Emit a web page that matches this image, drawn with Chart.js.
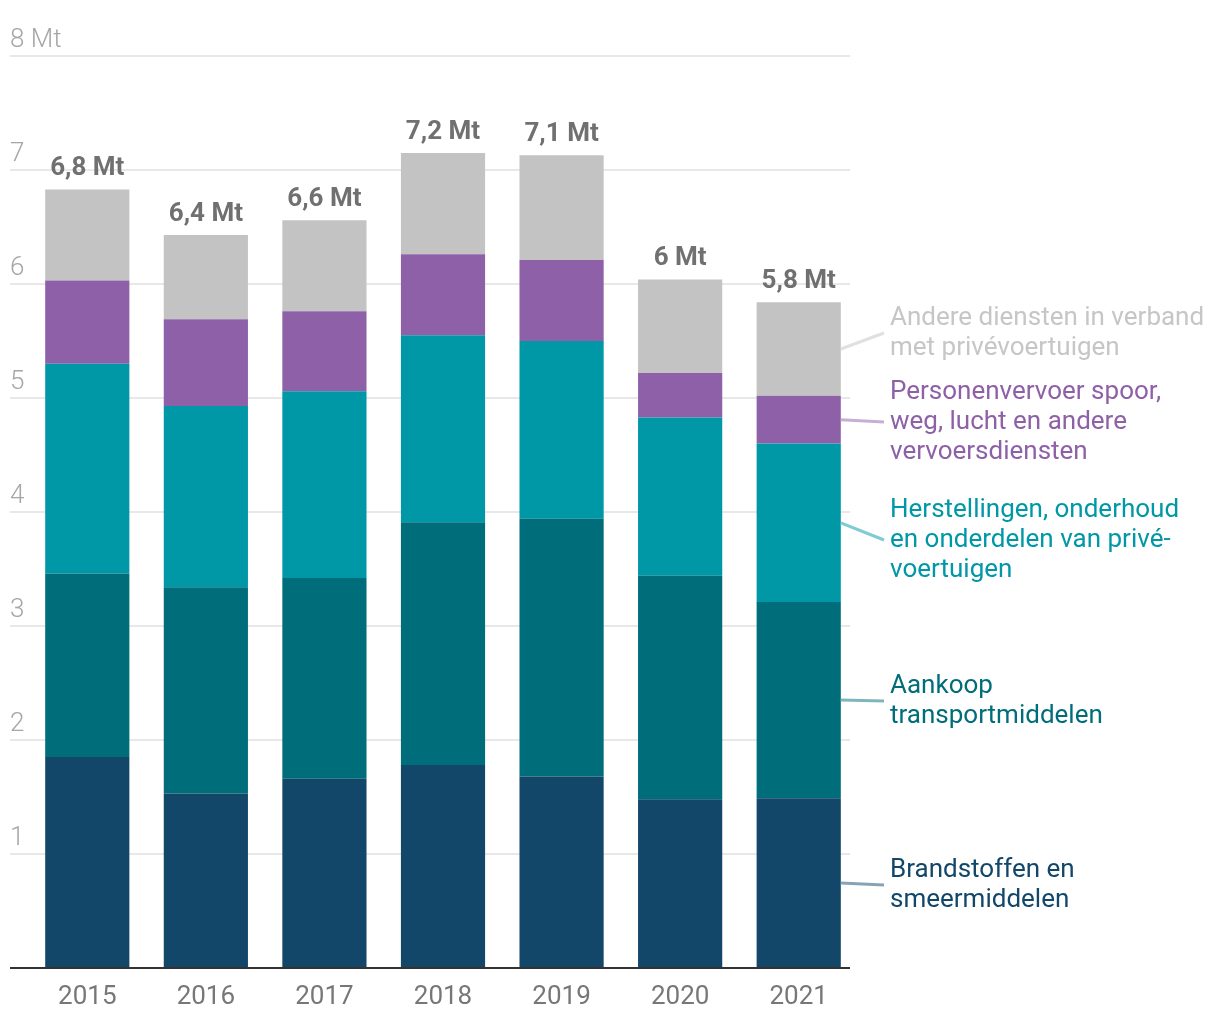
<!DOCTYPE html>
<html>
<head>
<meta charset="utf-8">
<script src="https://cdn.jsdelivr.net/npm/chart.js@4"></script>
<style>
  body { margin: 0; background: #fff; }
  #wrap { width: 1220px; height: 1020px; position: relative; }
</style>
</head>
<body>
<div id="wrap"><canvas id="myChart"></canvas></div>
<script>
// jaren
const years = ["2015", "2016", "2017", "2018", "2019", "2020", "2021"];

// reeksen (Mt), van onder naar boven
const brandstoffen = [1.85, 1.53, 1.66, 1.78, 1.68, 1.48, 1.49];
const aankoop = [1.61, 1.81, 1.76, 2.13, 2.26, 1.96, 1.72];
const herstellingen = [1.84, 1.59, 1.64, 1.64, 1.56, 1.39, 1.39];
const personenvervoer = [0.73, 0.76, 0.70, 0.71, 0.71, 0.39, 0.42];
const andereDiensten = [0.80, 0.74, 0.80, 0.89, 0.92, 0.82, 0.82];

// totalen boven de balken
const totalLabels = ["6,8 Mt", "6,4 Mt", "6,6 Mt", "7,2 Mt", "7,1 Mt", "6 Mt", "5,8 Mt"];

// y-as labels
const yTicks = [0, 1, 2, 3, 4, 5, 6, 7, 8];
const yTickLabels = ["", "1", "2", "3", "4", "5", "6", "7", "8 Mt"];

// legenda teksten
const seriesNames = [
  ["Brandstoffen en", "smeermiddelen"],
  ["Aankoop", "transportmiddelen"],
  ["Herstellingen, onderhoud", "en onderdelen van privé-", "voertuigen"],
  ["Personenvervoer spoor,", "weg, lucht en andere", "vervoersdiensten"],
  ["Andere diensten in verband", "met privévoertuigen"],
];
const colors = ["#12476a", "#006d7a", "#0097a7", "#8e60a8", "#c3c3c3"];
const textColors = ["#12476a", "#006d7a", "#0097a7", "#8e60a8", "#c6c6c6"];
const lineColors = ["#88a3b5", "#7fb6bd", "#7fcad3", "#c6afd4", "#e0e0e0"];
const legendTop = [870, 686, 510, 392, 318]; // y van eerste regel

const FONT = "Roboto, 'Noto Sans', sans-serif";

// rasterlijnen en y-labels
const gridPlugin = {
  id: "gridPlugin",
  beforeDatasetsDraw(chart) {
    const ctx = chart.ctx;
    const y = chart.scales.y;
    ctx.save();
    ctx.strokeStyle = "#e8e8e8";
    ctx.lineWidth = 2;
    ctx.font = "300 26px " + FONT;
    ctx.fillStyle = "#a6a6a6";
    ctx.textAlign = "left";
    ctx.textBaseline = "alphabetic";
    yTicks.forEach((v, i) => {
      const py = y.getPixelForValue(v);
      if (v > 0) {
        ctx.beginPath();
        ctx.moveTo(10, py);
        ctx.lineTo(850, py);
        ctx.stroke();
      }
      ctx.fillText(yTickLabels[i], 10, py - 9);
    });
    ctx.restore();
  },
  afterDatasetsDraw(chart) {
    const ctx = chart.ctx;
    const y = chart.scales.y;
    ctx.save();
    // basislijn
    ctx.strokeStyle = "#333";
    ctx.lineWidth = 2;
    ctx.beginPath();
    ctx.moveTo(10, y.getPixelForValue(0));
    ctx.lineTo(850, y.getPixelForValue(0));
    ctx.stroke();

    // totalen
    const top = chart.getDatasetMeta(chart.data.datasets.length - 1);
    ctx.font = "bold 26px " + FONT;
    ctx.fillStyle = "#707070";
    ctx.textAlign = "center";
    ctx.textBaseline = "alphabetic";
    top.data.forEach((bar, i) => {
      ctx.fillText(totalLabels[i], bar.x, bar.y - 14);
    });

    // legenda rechts met verbindingslijnen
    const last = years.length - 1;
    ctx.font = "26px " + FONT;
    ctx.textAlign = "left";
    ctx.textBaseline = "middle";
    seriesNames.forEach((lines, d) => {
      const bar = chart.getDatasetMeta(d).data[last];
      const mid = (bar.y + bar.base) / 2;
      const right = bar.x + bar.width / 2;
      const t0 = legendTop[d];
      const center = t0 + (lines.length - 1) * 15;
      ctx.strokeStyle = lineColors[d];
      ctx.lineWidth = 3;
      ctx.beginPath();
      ctx.moveTo(right, mid);
      ctx.lineTo(884, center);
      ctx.stroke();
      ctx.fillStyle = textColors[d];
      lines.forEach((txt, k) => ctx.fillText(txt, 890, t0 + k * 30));
    });
    ctx.restore();
  },
};

const seriesData = [brandstoffen, aankoop, herstellingen, personenvervoer, andereDiensten];

const context = document.getElementById("myChart").getContext("2d");
const myChart = new Chart(context, {
  type: "bar",
  data: {
    labels: years,
    datasets: seriesData.map((d, i) => ({
      label: seriesNames[i].join(" "),
      data: d,
      backgroundColor: colors[i],
      borderWidth: 0,
      barPercentage: 0.71,
      categoryPercentage: 1,
    })),
  },
  options: {
    responsive: true,
    maintainAspectRatio: false,
    animation: false,
    layout: {
      padding: { left: 28, right: 362, top: 56, bottom: 0 },
    },
    plugins: {
      legend: { display: false },
      tooltip: { enabled: false },
    },
    scales: {
      x: {
        stacked: true,
        grid: { display: false, drawTicks: false },
        border: { display: false },
        ticks: {
          color: "#777",
          font: { family: FONT, size: 26 },
          padding: 14,
        },
        afterFit(scale) {
          scale.height = 52;
        },
      },
      y: {
        stacked: true,
        display: false,
        min: 0,
        max: 8,
      },
    },
  },
  plugins: [gridPlugin],
});
</script>
</body>
</html>
